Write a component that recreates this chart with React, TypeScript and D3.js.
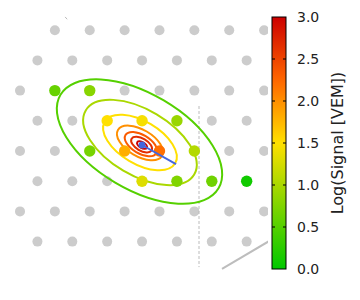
import React from 'react';
import * as d3 from 'd3';

const W = 360;
const H = 300;

// Hexagonal surface array (1.5 km spacing)
const spacingKm = 1.5;
const rowIndex = [0, 1, 2, 3, 4, 5, 6, 7];
const rowFirstCol = [1, 0.5, 0, 0.5, 0, 0.5, 0, 0.5];
const rowCount = [7, 7, 8, 7, 8, 7, 8, 7];

// Triggered stations: row, column index within row, log10(signal/VEM)
const hitRow = [2, 2, 3, 3, 3, 4, 4, 4, 4, 5, 5, 5, 5];
const hitCol = [1, 2, 2, 3, 4, 2, 3, 4, 5, 3, 4, 5, 6];
const hitLogS = [0.6, 0.8, 1.5, 1.45, 0.9, 0.7, 1.8, 2.2, 1.05, 1.3, 0.75, 0.65, 0.1];

// LDF contours (ellipses in ground plane)
const contourLevels = [0.5, 1.0, 1.5, 2.0, 2.33, 2.67, 3.0];
const contourSemiMajorKm = [3.95, 2.71, 1.76, 1.1, 0.77, 0.5, 0.24];
const contourCxKm = [5.14, 5.16, 5.16, 5.16, 5.2, 5.23, 5.25];
const contourCyKm = [4.79, 4.83, 4.83, 4.85, 4.9, 4.92, 4.94];
const axisRatio = 0.52;
const axisAngleDeg = 30.6;

// Shower core and axis projection
const coreKm = [5.247, 4.938];
const axisEndKm = [6.71, 5.757];

// Auxiliary lines
const dottedLineKm = [[7.7, 3.26], [7.7, 10.19]];
const grayLineKm = [[8.69, 10.27], [10.75, 9.05]];
const tickMarkKm = [[1.94, -0.57], [2.03, -0.47]];

// Colour scale
const colorStops = [0, 1.5, 2.25, 3.0];
const colorValues = ['#00c800', '#ffe000', '#ff6600', '#cc0000'];
const cbTicks = [0, 0.5, 1.0, 1.5, 2.0, 2.5, 3.0];

export default function App() {
  const x = d3.scaleLinear().domain([0, 10.5]).range([20, 264.1]);
  const y = d3.scaleLinear().domain([0, 9.093]).range([30.2, 241.6]);
  const pxPerKm = x(1) - x(0);
  const rowY = (r: number) => r * spacingKm * Math.sqrt(3) / 2;

  const color = d3
    .scaleLinear<string>()
    .domain(colorStops)
    .range(colorValues)
    .interpolate(d3.interpolateRgb)
    .clamp(true);

  const cbY = d3.scaleLinear().domain([0, 3]).range([269, 17]);
  const cbX = 272;
  const cbW = 14;

  const stations: { cx: number; cy: number }[] = [];
  rowIndex.forEach((r, i) => {
    for (let k = 0; k < rowCount[i]; k++) {
      stations.push({ cx: x((rowFirstCol[i] + k) * spacingKm), cy: y(rowY(r)) });
    }
  });

  const hits = hitRow.map((r, i) => ({
    cx: x((rowFirstCol[r] + hitCol[i]) * spacingKm),
    cy: y(rowY(r)),
    c: color(hitLogS[i]),
  }));

  const line = d3
    .line<number[]>()
    .x((d) => x(d[0]))
    .y((d) => y(d[1]));

  const font = 'DejaVu Sans, sans-serif';

  return (
    <svg
      width={W}
      height={H}
      style={{ position: 'absolute', left: 0, top: 0, background: '#fff' }}
    >
      <defs>
        <clipPath id="plotClip">
          <rect x={0} y={0} width={268} height={H} />
        </clipPath>
        <linearGradient id="cbGrad" x1="0" y1="1" x2="0" y2="0">
          {d3.range(0, 31).map((i) => (
            <stop key={i} offset={i / 30} stopColor={color((i / 30) * 3)} />
          ))}
        </linearGradient>
      </defs>
      <rect width={W} height={H} fill="#fff" />
      <g clipPath="url(#plotClip)">
        {stations.map((s, i) => (
          <circle key={'s' + i} cx={s.cx} cy={s.cy} r={5} fill="#cccccc" />
        ))}
        <path d={line(dottedLineKm) || ''} stroke="#bbbbbb" strokeWidth={1} strokeDasharray="3,2" fill="none" />
        <path d={line(grayLineKm) || ''} stroke="#bdbdbd" strokeWidth={2} fill="none" />
        <path d={line(tickMarkKm) || ''} stroke="#bbbbbb" strokeWidth={1} fill="none" />
        {contourLevels.map((lv, i) => {
          const cx = x(contourCxKm[i]);
          const cy = y(contourCyKm[i]);
          const a = contourSemiMajorKm[i] * pxPerKm;
          return (
            <ellipse
              key={'c' + i}
              cx={cx}
              cy={cy}
              rx={a}
              ry={a * axisRatio}
              transform={`rotate(${axisAngleDeg} ${cx} ${cy})`}
              fill="none"
              stroke={color(lv)}
              strokeWidth={2}
            />
          );
        })}
        {hits.map((h, i) => (
          <circle key={'h' + i} cx={h.cx} cy={h.cy} r={5.7} fill={h.c} />
        ))}
        <path d={line([coreKm, axisEndKm]) || ''} stroke="#4466dd" strokeWidth={2} fill="none" />
        <circle cx={x(coreKm[0])} cy={y(coreKm[1])} r={3.5} fill="#4466dd" />
      </g>
      {/* colour bar */}
      <rect x={cbX} y={cbY(3)} width={cbW} height={cbY(0) - cbY(3)} fill="url(#cbGrad)" stroke="#000" strokeWidth={1} />
      {cbTicks.map((t) => (
        <g key={'t' + t}>
          {t > 0 && t < 3 && (
            <>
              <line x1={cbX} x2={cbX + 3} y1={cbY(t)} y2={cbY(t)} stroke="#000" strokeWidth={1} />
              <line x1={cbX + cbW - 3} x2={cbX + cbW} y1={cbY(t)} y2={cbY(t)} stroke="#000" strokeWidth={1} />
            </>
          )}
          <text x={297} y={cbY(t)} dominantBaseline="central" fontFamily={font} fontSize={14} fill="#222">
            {t.toFixed(1)}
          </text>
        </g>
      ))}
      <text
        transform={`translate(343, ${(cbY(0) + cbY(3)) / 2}) rotate(-90)`}
        textAnchor="middle"
        fontFamily={font}
        fontSize={16}
        fill="#222"
      >
        Log(Signal [VEM])
      </text>
    </svg>
  );
}
